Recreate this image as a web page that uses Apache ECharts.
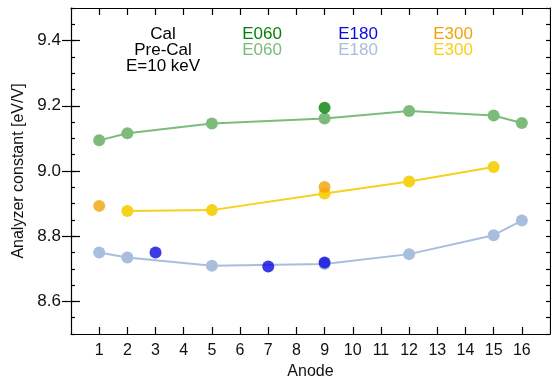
<!DOCTYPE html>
<html>
<head>
<meta charset="utf-8">
<script src="https://cdn.jsdelivr.net/npm/echarts@6/dist/echarts.min.js"></script>
<style>
html,body{margin:0;padding:0;background:#fff;}
#c{width:551px;height:385px;}
</style>
</head>
<body>
<div id="c"></div>
<script>
// ---- data ----
const preE060X = [1, 2, 5, 9, 12, 15, 16];
const preE060Y = [9.094, 9.116, 9.146, 9.161, 9.184, 9.170, 9.147];
const preE180X = [1, 2, 5, 9, 12, 15, 16];
const preE180Y = [8.750, 8.735, 8.709, 8.715, 8.745, 8.803, 8.848];
const preE300X = [2, 5, 9, 12, 15];
const preE300Y = [8.877, 8.880, 8.931, 8.968, 9.012];
const calE060X = [9];
const calE060Y = [9.194];
const calE180X = [3, 7, 9];
const calE180Y = [8.750, 8.707, 8.719];
const calE300X = [1, 9];
const calE300Y = [8.893, 8.951];
const xTicks = [1,2,3,4,5,6,7,8,9,10,11,12,13,14,15,16];
const yLabels = [8.6, 8.8, 9.0, 9.2, 9.4];

const pairs = (xs, ys) => xs.map((x, i) => [x, ys[i]]);

const FONT = 'Liberation Sans, Arial, Helvetica, sans-serif';
const col = {
  e060: '#078007', e060p: '#7dbb7d',
  e180: '#0a0ae0', e180p: '#a9bedd',
  e300: '#f2a20a', e300p: '#f6d21a'
};

const chart = echarts.init(document.getElementById('c'), null, {renderer: 'canvas'});

const xBase = {
  type: 'value', min: 0, max: 17, interval: 1,
  axisLine: {show: true, onZero: false, lineStyle: {color: '#000', width: 1.2}},
  axisTick: {show: true, inside: true, length: 7, lineStyle: {color: '#000', width: 1.2},
    customValues: xTicks},
  splitLine: {show: false}
};
const yMinor = (pos) => ({
  type: 'value', min: 8.5, max: 9.5, interval: 0.05, position: pos,
  axisLine: {show: true, onZero: false, lineStyle: {color: '#000', width: 1.2}},
  axisTick: {show: true, inside: true, length: 4, lineStyle: {color: '#000', width: 1.2}},
  splitLine: {show: false}
});
const yMajor = (pos) => ({
  type: 'value', min: 8.5, max: 9.5, interval: 0.1, position: pos,
  axisLine: {show: false},
  axisTick: {show: true, inside: true, length: 9, lineStyle: {color: '#000', width: 1.2},
    customValues: yLabels},
  axisLabel: {show: false},
  splitLine: {show: false}
});

const option = {
  animation: false,
  backgroundColor: '#fff',
  textStyle: {fontFamily: FONT},
  grid: {left: 71, right: 1, top: 8, bottom: 50, containLabel: false},
  xAxis: [
    Object.assign({}, xBase, {
      position: 'bottom',
      name: 'Anode', nameLocation: 'middle', nameGap: 30,
      nameTextStyle: {fontFamily: FONT, fontSize: 16, color: '#111'},
      axisLabel: {show: true, color: '#111', fontFamily: FONT, fontSize: 16, margin: 9,
        customValues: xTicks}
    }),
    Object.assign({}, xBase, {position: 'top', axisLabel: {show: false}})
  ],
  yAxis: [
    Object.assign(yMinor('left'), {
      name: 'Analyzer constant [eV/V]', nameLocation: 'middle', nameGap: 43,
      nameTextStyle: {fontFamily: FONT, fontSize: 16, color: '#111'},
      axisLabel: {show: true, color: '#111', fontFamily: FONT, fontSize: 17, margin: 10,
        customValues: yLabels, formatter: v => Number(v).toFixed(1)}
    }),
    Object.assign(yMinor('right'), {axisLabel: {show: false}}),
    yMajor('left'),
    yMajor('right')
  ],
  series: [
    {name: 'Pre-Cal E060', type: 'line', data: pairs(preE060X, preE060Y),
      symbol: 'circle', symbolSize: 12, itemStyle: {color: col.e060p},
      lineStyle: {color: col.e060p, width: 2}, z: 2},
    {name: 'Pre-Cal E300', type: 'line', data: pairs(preE300X, preE300Y),
      symbol: 'circle', symbolSize: 12, itemStyle: {color: col.e300p},
      lineStyle: {color: col.e300p, width: 2}, z: 2},
    {name: 'Pre-Cal E180', type: 'line', data: pairs(preE180X, preE180Y),
      symbol: 'circle', symbolSize: 12, itemStyle: {color: col.e180p},
      lineStyle: {color: col.e180p, width: 2}, z: 2},
    {name: 'Cal E060', type: 'scatter', data: pairs(calE060X, calE060Y),
      symbol: 'circle', symbolSize: 12, itemStyle: {color: col.e060}, z: 3},
    {name: 'Cal E180', type: 'scatter', data: pairs(calE180X, calE180Y),
      symbol: 'circle', symbolSize: 12, itemStyle: {color: col.e180}, z: 3},
    {name: 'Cal E300', type: 'scatter', data: pairs(calE300X, calE300Y),
      symbol: 'circle', symbolSize: 12, itemStyle: {color: col.e300}, z: 3}
  ],
  graphic: [
    {type: 'text', x: 163, y: 34, style: {text: 'Cal', fill: '#000', font: '17px ' + FONT, textAlign: 'center', textVerticalAlign: 'middle'}},
    {type: 'text', x: 163, y: 50, style: {text: 'Pre-Cal', fill: '#000', font: '17px ' + FONT, textAlign: 'center', textVerticalAlign: 'middle'}},
    {type: 'text', x: 163, y: 66, style: {text: 'E=10 keV', fill: '#000', font: '17px ' + FONT, textAlign: 'center', textVerticalAlign: 'middle'}},
    {type: 'text', x: 262, y: 34, style: {text: 'E060', fill: col.e060, font: '17px ' + FONT, textAlign: 'center', textVerticalAlign: 'middle'}},
    {type: 'text', x: 262, y: 50, style: {text: 'E060', fill: col.e060p, font: '17px ' + FONT, textAlign: 'center', textVerticalAlign: 'middle'}},
    {type: 'text', x: 358, y: 34, style: {text: 'E180', fill: col.e180, font: '17px ' + FONT, textAlign: 'center', textVerticalAlign: 'middle'}},
    {type: 'text', x: 358, y: 50, style: {text: 'E180', fill: col.e180p, font: '17px ' + FONT, textAlign: 'center', textVerticalAlign: 'middle'}},
    {type: 'text', x: 453, y: 34, style: {text: 'E300', fill: col.e300, font: '17px ' + FONT, textAlign: 'center', textVerticalAlign: 'middle'}},
    {type: 'text', x: 453, y: 50, style: {text: 'E300', fill: col.e300p, font: '17px ' + FONT, textAlign: 'center', textVerticalAlign: 'middle'}}
  ]
};
chart.setOption(option);
</script>
</body>
</html>
